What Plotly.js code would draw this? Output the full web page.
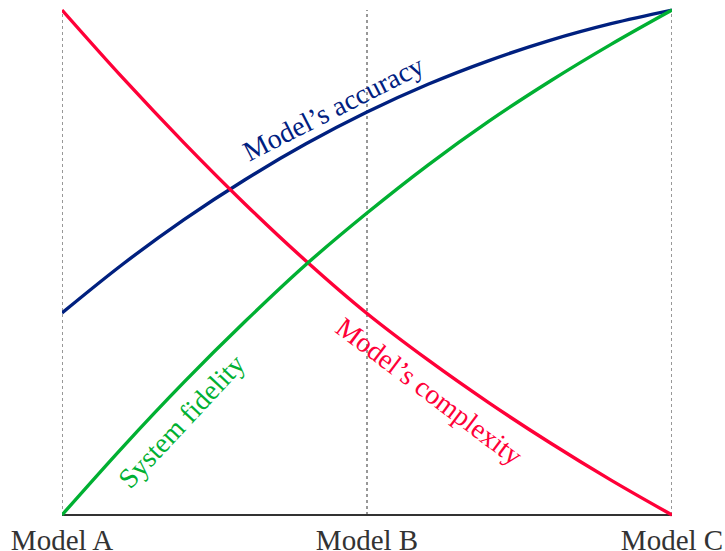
<!DOCTYPE html>
<html>
<head>
<meta charset="utf-8">
<script src="https://cdn.plot.ly/plotly-3.0.1.min.js"></script>
<style>html,body{margin:0;padding:0;background:#fff;}#chart{width:725px;height:551px;}</style>
</head>
<body>
<div id="chart"></div>
<script>
// Category positions along the x axis and their labels
const categoryPos = [0, 0.5, 1];
const categories = ["Model A", "Model B", "Model C"];

// Sample positions between Model A (0) and Model C (1)
const xs = [0, 0.1, 0.2, 0.3, 0.4, 0.5, 0.6, 0.7, 0.8, 0.9, 1.0];

// Series values (normalised 0..1)
const accuracy   = [0.40, 0.497, 0.585, 0.664, 0.735, 0.798, 0.853, 0.900, 0.940, 0.973, 1.0];
const complexity = [1.0, 0.865, 0.737, 0.616, 0.503, 0.399, 0.307, 0.222, 0.143, 0.069, 0.0];
const fidelity   = [0.0, 0.135, 0.263, 0.383, 0.496, 0.598, 0.693, 0.780, 0.859, 0.932, 1.0];

const seriesNames = ["Model’s accuracy", "Model’s complexity", "System fidelity"];

const BLUE = "#00207f", RED = "#ff0038", GREEN = "#00b032";
const FONT = "Liberation Serif, Times New Roman, serif";

const traces = [
  {x: xs, y: accuracy, name: seriesNames[0], mode: "lines", line: {color: BLUE, width: 3.4, shape: "spline", smoothing: 1}},
  {x: xs, y: complexity, name: seriesNames[1], mode: "lines", line: {color: RED, width: 3.4, shape: "spline", smoothing: 1}},
  {x: xs, y: fidelity, name: seriesNames[2], mode: "lines", line: {color: GREEN, width: 3.4, shape: "spline", smoothing: 1}}
];

const shapes = categoryPos.map(p => ({
  type: "line", xref: "x", yref: "y", x0: p, x1: p, y0: 0, y1: 1,
  line: {color: "#777", width: 1.5, dash: "dot"}, layer: "below"
}));

const layout = {
  width: 725, height: 551,
  margin: {l: 62, r: 53, t: 5, b: 31},
  paper_bgcolor: "#fff", plot_bgcolor: "#fff",
  showlegend: false,
  xaxis: {
    range: [0, 1], showgrid: false, zeroline: false, showline: false,
    tickvals: categoryPos, ticktext: categories, ticks: "",
    tickfont: {family: FONT, size: 29, color: "#333"},
    automargin: false
  },
  yaxis: {
    range: [-0.01, 1.01], showgrid: false, showticklabels: false, ticks: "",
    zeroline: true, zerolinecolor: "#333", zerolinewidth: 1.4, showline: false
  },
  shapes: shapes,
  annotations: [
    {text: seriesNames[0], x: 0.444, y: 0.806, xref: "x", yref: "y", showarrow: false,
     textangle: -27, font: {family: FONT, size: 28, color: BLUE}},
    {text: seriesNames[1], x: 0.603, y: 0.245, xref: "x", yref: "y", showarrow: false,
     textangle: 37, font: {family: FONT, size: 28, color: RED}},
    {text: seriesNames[2], x: 0.195, y: 0.186, xref: "x", yref: "y", showarrow: false,
     textangle: -47, font: {family: FONT, size: 28, color: GREEN}}
  ]
};

Plotly.newPlot("chart", traces, layout, {displayModeBar: false, staticPlot: true});
</script>
</body>
</html>
